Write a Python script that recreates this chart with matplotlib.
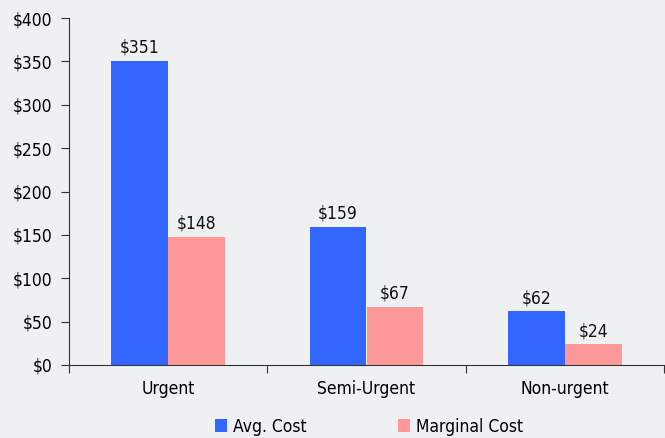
import numpy as np
import matplotlib.pyplot as plt

# data
categories = ["Urgent", "Semi-Urgent", "Non-urgent"]
avg_cost = [351, 159, 62]
marginal_cost = [148, 67, 24]
series_names = ["Avg. Cost", "Marginal Cost"]

bg = "#eff0f2"
blue = "#3366ff"
pink = "#ff9999"

plt.rcParams["font.family"] = "DejaVu Sans"
plt.rcParams["font.stretch"] = "condensed"
fs = 12.5

fig = plt.figure(figsize=(6.65, 4.38), dpi=100, facecolor=bg)
ax = fig.add_axes([69 / 665, 1 - 365 / 438, 595 / 665, (365 - 18) / 438])
ax.set_facecolor(bg)

x = np.arange(len(categories))
w = 0.287
b1 = ax.bar(x - w / 2, avg_cost, w, color=blue, linewidth=0, label=series_names[0])
b2 = ax.bar(x + w / 2, marginal_cost, w, color=pink, linewidth=0, label=series_names[1])

for bars in (b1, b2):
    for r in bars:
        ax.annotate("${:d}".format(int(r.get_height())),
                    (r.get_x() + r.get_width() / 2, r.get_height()),
                    xytext=(0, 3), textcoords="offset points",
                    ha="center", va="bottom", fontsize=fs, color="#111111")

ax.set_xlim(-0.5, 2.5)
ax.set_ylim(0, 400)
ax.set_yticks(range(0, 401, 50))
ax.set_yticklabels(["${}".format(v) for v in range(0, 401, 50)], fontsize=fs)

# boundary ticks on x, labels on minor ticks
ax.set_xticks([-0.5, 0.5, 1.5, 2.5])
ax.set_xticklabels([])
ax.set_xticks(x, minor=True)
ax.set_xticklabels(categories, minor=True, fontsize=fs)
ax.tick_params(axis="x", which="minor", length=0, pad=11)
ax.tick_params(axis="x", which="major", length=6, color="#333333")
ax.tick_params(axis="y", length=6, color="#333333", pad=6)

for s in ("top", "right"):
    ax.spines[s].set_visible(False)
for s in ("left", "bottom"):
    ax.spines[s].set_color("#333333")

fig.legend(loc="lower center", bbox_to_anchor=(0.555, -0.03), ncol=2,
           frameon=False, fontsize=fs, handlelength=0.7, handleheight=0.7,
           handletextpad=0.3, columnspacing=5.3)

plt.savefig("out.png", dpi=100, facecolor=bg)
